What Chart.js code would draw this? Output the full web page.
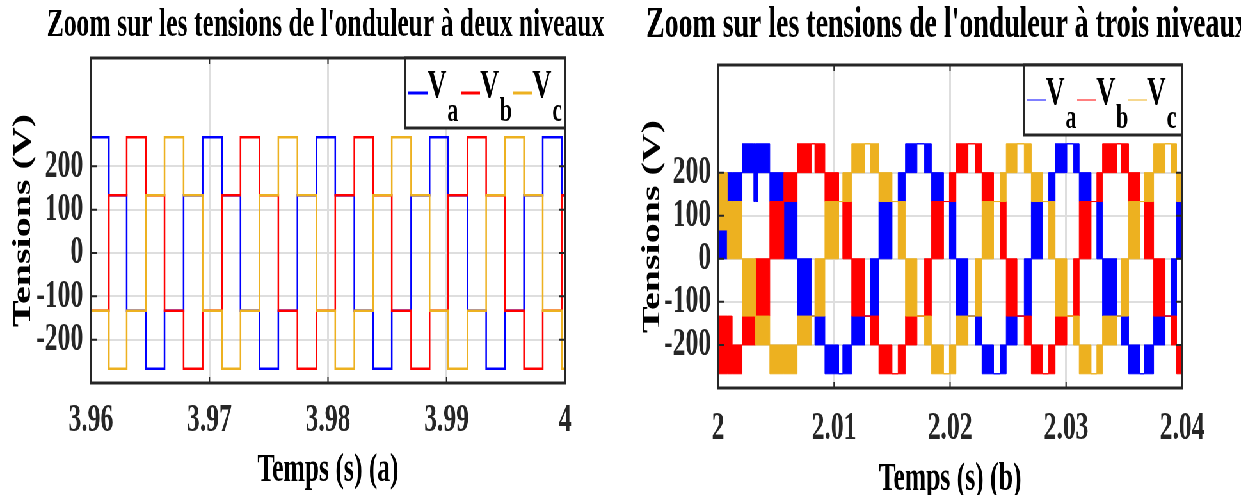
<!DOCTYPE html>
<html lang="fr">
<head>
<meta charset="utf-8">
<title>Tensions des onduleurs</title>
<script src="https://cdn.jsdelivr.net/npm/chart.js@4.4.1/dist/chart.umd.min.js"></script>
<style>
  html, body { margin: 0; padding: 0; overflow: hidden; background: #fff; }
  /* the MATLAB figure is squeezed horizontally, so both panels are drawn wide and scaled */
  #page { position: absolute; left: 0; top: 0; width: 1971px; height: 495px; transform: scaleX(0.64); transform-origin: 0 0; }
  .panel { position: absolute; top: 0; height: 495px; }
  #panelA { left: 0; width: 1017px; }
  #panelB { left: 990px; width: 981px; }
</style>
</head>
<body>
<div id="page">
  <div class="panel" id="panelA"><canvas id="chartA"></canvas></div>
  <div class="panel" id="panelB"><canvas id="chartB"></canvas></div>
</div>
<script>
const xTicksA = [3.96, 3.97, 3.98, 3.99, 4];
const xLabelsA = ['3.96', '3.97', '3.98', '3.99', '4'];
const xTicksB = [2, 2.01, 2.02, 2.03, 2.04];
const xLabelsB = ['2', '2.01', '2.02', '2.03', '2.04'];
const yTicks = [-200, -100, 0, 100, 200];
const yLabels = ['-200', '-100', '0', '100', '200'];

const phaseSubs = ['a', 'b', 'c'];
const phaseColors = ['#0000ff', '#ff0000', '#edb120'];

// (a) two-level inverter: switching instants (s) and level held after each one (V)
const timeA = [3.96, 3.96152, 3.96302, 3.96463, 3.96621, 3.96782, 3.96943, 3.97107, 3.97262,
  3.97423, 3.97581, 3.97742, 3.97903, 3.98061, 3.98222, 3.98380, 3.98538, 3.98701, 3.98857,
  3.99012, 3.99176, 3.99334, 3.99492, 3.99653, 3.99811, 3.99972, 4.0];
const vaA = [267, 133, -133, -267, -133, 133, 267, 133, -133, -267, -133, 133, 267, 133, -133,
  -267, -133, 133, 267, 133, -133, -267, -133, 133, 267, 133];
const vbA = [-133, 133, 267, 133, -133, -267, -133, 133, 267, 133, -133, -267, -133, 133, 267,
  133, -133, -267, -133, 133, 267, 133, -133, -267, -133, 133];
const vcA = [-133, -267, -133, 133, 267, 133, -133, -267, -133, 133, 267, 133, -133, -267, -133,
  133, 267, 133, -133, -267, -133, 133, 267, 133, -133, -267];

// (b) three-level inverter: interval bounds (s); in each interval the PWM fills the band lo..hi
const timeB = [2.00000, 2.00079, 2.00122, 2.00207, 2.00308, 2.00323, 2.00343, 2.00446, 2.00567,
  2.00682, 2.00805, 2.00834, 2.00921, 2.01040, 2.01075, 2.01152, 2.01264, 2.01313, 2.01386,
  2.01500, 2.01552, 2.01615, 2.01715, 2.01778, 2.01839, 2.01944, 2.01994, 2.02051, 2.02155,
  2.02217, 2.02275, 2.02375, 2.02433, 2.02484, 2.02577, 2.02639, 2.02700, 2.02797, 2.02849,
  2.02906, 2.03007, 2.03064, 2.03113, 2.03216, 2.03265, 2.03314, 2.03440, 2.03475, 2.03539,
  2.03638, 2.03673, 2.03755, 2.03854, 2.03905, 2.03953, 2.04000];
const vaHiB = [67, 200, 200, 267, 267, 267, 267, 200, 133, 0, -133, -133, -200, -267, -200, -133,
  -133, 0, 133, 133, 200, 267, 267, 267, 200, 133, 133, 0, -133, -133, -200, -267, -200, -133,
  -133, 0, 133, 133, 200, 267, 267, 267, 200, 133, 133, 0, -133, -133, -200, -267, -200, -133,
  -133, 0, 133];
const vaLoB = [0, 133, 133, 200, 133, 133, 200, 133, 0, -133, -133, -200, -267, -267, -267, -200,
  -133, -133, 0, 133, 133, 200, 267, 200, 133, 133, 0, -133, -133, -200, -267, -267, -267, -200,
  -133, -133, 0, 133, 133, 200, 267, 200, 133, 133, 0, -133, -133, -200, -267, -267, -267, -200,
  -133, -133, 0];
const vbHiB = [-133, -133, -200, -133, -133, 0, 0, 133, 200, 267, 267, 267, 200, 133, 133, 0,
  -133, -133, -200, -267, -200, -133, -133, 0, 133, 133, 200, 267, 267, 267, 200, 133, 133, 0,
  -133, -133, -200, -267, -200, -133, -133, 0, 133, 133, 200, 267, 267, 267, 200, 133, 133, 0,
  -133, -133, -200];
const vbLoB = [-267, -267, -267, -200, -200, -133, -133, 0, 133, 200, 267, 200, 133, 133, 0, -133,
  -133, -200, -267, -267, -267, -200, -133, -133, 0, 133, 133, 200, 267, 200, 133, 133, 0, -133,
  -133, -200, -267, -267, -267, -200, -133, -133, 0, 133, 133, 200, 267, 200, 133, 133, 0, -133,
  -133, -200, -267];
const vcHiB = [200, 133, 133, 0, 0, -133, -133, -200, -200, -133, -133, 0, 133, 133, 200, 267,
  267, 267, 200, 133, 133, 0, -133, -133, -200, -267, -200, -133, -133, 0, 133, 133, 200, 267,
  267, 267, 200, 133, 133, 0, -133, -133, -200, -267, -200, -133, -133, 0, 133, 133, 200, 267,
  267, 267, 200];
const vcLoB = [67, 0, 0, -133, -133, -200, -200, -267, -267, -200, -133, -133, 0, 133, 133, 200,
  267, 200, 133, 133, 0, -133, -133, -200, -267, -267, -267, -200, -133, -133, 0, 133, 133, 200,
  267, 200, 133, 133, 0, -133, -133, -200, -267, -267, -267, -200, -133, -133, 0, 133, 133, 200,
  267, 200, 133];

const SERIF = '"Liberation Serif", "Times New Roman", serif';
Chart.defaults.font.family = SERIF;
Chart.defaults.color = '#262626';

function steps(times, values) {
  return times.map((t, i) => ({ x: t, y: values[Math.min(i, values.length - 1)] }));
}

function axisX(ticks, labels, title, height, tickPad, titlePad) {
  return {
    type: 'linear',
    min: ticks[0],
    max: ticks[ticks.length - 1],
    afterBuildTicks: scale => { scale.ticks = ticks.map(v => ({ value: v })); },
    afterFit: scale => { scale.height = height; },
    ticks: { callback: (v, i) => labels[i], font: { size: 40, weight: 'bold' }, padding: tickPad, maxRotation: 0, autoSkip: false },
    grid: { color: '#dedede', lineWidth: 3, drawTicks: false },
    border: { display: false },
    title: { display: true, text: title, color: '#000', font: { size: 40, weight: 'bold' }, padding: { top: 0, bottom: titlePad } },
  };
}

function axisY(width, tickPad, titlePad) {
  return {
    type: 'linear',
    position: 'left',
    min: -300,
    max: 450,
    afterBuildTicks: scale => { scale.ticks = yTicks.map(v => ({ value: v })); },
    afterFit: scale => { scale.width = width; },
    ticks: { callback: (v, i) => yLabels[i], font: { size: 40, weight: 'bold' }, padding: tickPad },
    grid: { color: '#dedede', lineWidth: 2, drawTicks: false },
    border: { display: false },
    title: { display: true, text: 'Tensions (V)', color: '#000', font: { size: 40, weight: 'bold' }, padding: { top: titlePad, bottom: 0 } },
  };
}

// keeps room on the right so the title stays centred like in the figure
function spacer(width) {
  return {
    type: 'linear', position: 'right', display: true,
    grid: { display: false }, border: { display: false }, ticks: { display: false },
    afterFit: scale => { scale.width = width; },
  };
}

const frame = {
  id: 'frame',
  afterDatasetsDraw(chart) {
    const { ctx, chartArea: a, scales: { x, y } } = chart;
    ctx.save();
    ctx.strokeStyle = '#262626';
    ctx.lineWidth = 2;
    ctx.beginPath();
    x.ticks.forEach(t => {
      const px = x.getPixelForValue(t.value);
      ctx.moveTo(px, a.top); ctx.lineTo(px, a.top + 6);
      ctx.moveTo(px, a.bottom); ctx.lineTo(px, a.bottom - 6);
    });
    y.ticks.forEach(t => {
      const py = y.getPixelForValue(t.value);
      ctx.moveTo(a.left, py); ctx.lineTo(a.left + 9, py);
      ctx.moveTo(a.right, py); ctx.lineTo(a.right - 9, py);
    });
    ctx.stroke();
    ctx.lineWidth = 3;
    ctx.strokeRect(a.left, a.top, a.width, a.height);
    ctx.restore();
  },
};

const subLegend = {
  id: 'subLegend',
  afterDraw(chart, args, o) {
    const { ctx, chartArea: a } = chart;
    const x0 = a.right - o.width;
    const y0 = a.top;
    ctx.save();
    ctx.fillStyle = '#fff';
    ctx.fillRect(x0, y0, o.width, o.height);
    ctx.strokeStyle = '#262626';
    ctx.lineWidth = 3;
    ctx.strokeRect(x0, y0, o.width, o.height);
    ctx.textAlign = 'left';
    ctx.textBaseline = 'alphabetic';
    phaseSubs.forEach((sub, i) => {
      const sx = x0 + o.first + o.pitch * i;
      ctx.strokeStyle = phaseColors[i];
      ctx.lineWidth = o.lineWidth;
      ctx.beginPath();
      ctx.moveTo(sx, y0 + 35);
      ctx.lineTo(sx + 30, y0 + 35);
      ctx.stroke();
      ctx.fillStyle = '#000';
      ctx.font = 'bold 41px ' + SERIF;
      ctx.fillText('V', sx + 30, y0 + 39);
      ctx.font = 'bold 34px ' + SERIF;
      ctx.fillText(sub, sx + 61, y0 + 63);
    });
    ctx.restore();
  },
};

function lineSet(values, color) {
  return {
    data: steps(timeA, values),
    borderColor: color,
    borderWidth: 2.5,
    stepped: true,
    pointRadius: 0,
    fill: false,
  };
}

function bandSets(hi, lo, color) {
  const common = { borderColor: color, backgroundColor: color, borderWidth: 1, stepped: true, pointRadius: 0 };
  return [
    { ...common, data: steps(timeB, hi), fill: '+1' },
    { ...common, data: steps(timeB, lo), fill: false },
  ];
}

const chartA = new Chart(document.getElementById('chartA'), {
  type: 'line',
  data: {
    // last dataset is drawn first, so V_c ends up on top as in the figure
    datasets: [lineSet(vcA, phaseColors[2]), lineSet(vbA, phaseColors[1]), lineSet(vaA, phaseColors[0])],
  },
  options: {
    responsive: true,
    maintainAspectRatio: false,
    animation: false,
    events: [],
    layout: { padding: 0 },
    scales: {
      x: axisX(xTicksA, xLabelsA, 'Temps (s) (a)', 112, 14, 0),
      y: axisY(142, 12, 13),
      yr: spacer(134),
    },
    plugins: {
      legend: { display: false },
      tooltip: { enabled: false },
      title: {
        display: true,
        text: "Zoom sur les tensions de l'onduleur à deux niveaux",
        color: '#000',
        font: { size: 40, weight: 'bold' },
        padding: { top: 2, bottom: 8 },
      },
      subLegend: { width: 250, height: 70, first: 5, pitch: 82, lineWidth: 3 },
    },
  },
  plugins: [frame, subLegend],
});

const chartB = new Chart(document.getElementById('chartB'), {
  type: 'line',
  data: {
    datasets: [
      ...bandSets(vcHiB, vcLoB, phaseColors[2]),
      ...bandSets(vbHiB, vbLoB, phaseColors[1]),
      ...bandSets(vaHiB, vaLoB, phaseColors[0]),
    ],
  },
  options: {
    responsive: true,
    maintainAspectRatio: false,
    animation: false,
    events: [],
    layout: { padding: 0 },
    scales: {
      x: axisX(xTicksB, xLabelsB, 'Temps (s) (b)', 107, 17, -9),
      y: axisY(132, 11, 6),
      yr: spacer(124),
    },
    plugins: {
      legend: { display: false },
      tooltip: { enabled: false },
      title: {
        display: true,
        text: "Zoom sur les tensions de l'onduleur à trois niveaux",
        color: '#000',
        font: { size: 43.5, weight: 'bold' },
        padding: { top: 0, bottom: 12.8 },
      },
      subLegend: { width: 247, height: 70, first: 4, pitch: 79, lineWidth: 1 },
    },
  },
  plugins: [frame, subLegend],
});
</script>
</body>
</html>
